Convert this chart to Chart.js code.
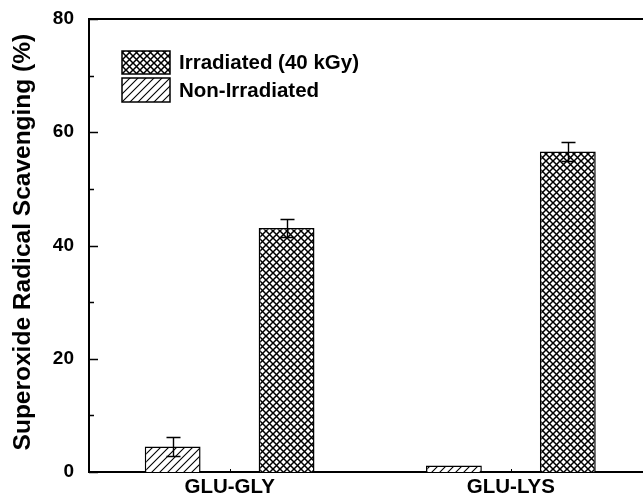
<!DOCTYPE html>
<html>
<head>
<meta charset="utf-8">
<script src="https://cdn.jsdelivr.net/npm/chart.js@4.4.0/dist/chart.umd.min.js"></script>
<style>
html,body{margin:0;padding:0;background:#fff;}
#wrap{width:643px;height:497px;overflow:hidden;position:relative;}
canvas{display:block;}
</style>
</head>
<body>
<div id="wrap"><canvas id="c" width="660" height="497"></canvas></div>
<script>
// ---- data ----
const categories = ['GLU-GLY', 'GLU-LYS'];
const nonIrradiated = [4.5, 1.15];
const nonIrradiatedErr = [1.7, 0];
const irradiated = [43.1, 56.6];
const irradiatedErr = [1.65, 1.6];
const yTicks = [0, 20, 40, 60, 80];
const seriesNames = ['Non-Irradiated', 'Irradiated (40 kGy)'];

const FONT = '"Liberation Sans", Arial, Helvetica, sans-serif';

function crossPattern() {
  const s = 7, c = document.createElement('canvas');
  c.width = s; c.height = s;
  const g = c.getContext('2d');
  g.fillStyle = '#fff'; g.fillRect(0, 0, s, s);
  g.strokeStyle = '#000'; g.lineWidth = 1.5;
  g.beginPath();
  g.moveTo(-1, -1); g.lineTo(s + 1, s + 1);
  g.moveTo(-1, s + 1); g.lineTo(s + 1, -1);
  g.stroke();
  return g.createPattern(c, 'repeat');
}
function hatchPattern() {
  const s = 8, c = document.createElement('canvas');
  c.width = s; c.height = s;
  const g = c.getContext('2d');
  g.fillStyle = '#fff'; g.fillRect(0, 0, s, s);
  g.strokeStyle = '#000'; g.lineWidth = 1.1;
  g.beginPath();
  g.moveTo(-1, s + 1); g.lineTo(s + 1, -1);
  g.moveTo(-1, 1); g.lineTo(1, -1);
  g.moveTo(s - 1, s + 1); g.lineTo(s + 1, s - 1);
  g.stroke();
  return g.createPattern(c, 'repeat');
}
const cross = crossPattern();
const hatch = hatchPattern();

const errorBars = {
  id: 'errorBars',
  afterDatasetsDraw(chart) {
    const ctx = chart.ctx, y = chart.scales.y;
    const errs = [nonIrradiatedErr, irradiatedErr];
    const vals = [nonIrradiated, irradiated];
    ctx.save();
    ctx.strokeStyle = '#000'; ctx.lineWidth = 1.4;
    chart.data.datasets.forEach((ds, di) => {
      const meta = chart.getDatasetMeta(di);
      meta.data.forEach((bar, i) => {
        const e = errs[di][i];
        if (!e) return;
        const yt = Math.round(y.getPixelForValue(vals[di][i] + e)) + 0.5;
        const yb = Math.round(y.getPixelForValue(vals[di][i] - e)) + 0.5;
        const x = Math.round(bar.x) + 0.5, hw = 7;
        ctx.beginPath();
        ctx.moveTo(x, yt); ctx.lineTo(x, yb);
        ctx.moveTo(x - hw, yt); ctx.lineTo(x + hw, yt);
        ctx.moveTo(x - hw, yb); ctx.lineTo(x + hw, yb);
        ctx.stroke();
      });
    });
    ctx.restore();
  }
};

const frame = {
  id: 'frame',
  afterDraw(chart) {
    const ctx = chart.ctx, a = chart.chartArea, y = chart.scales.y, x = chart.scales.x;
    ctx.save();
    ctx.strokeStyle = '#000';
    // top border
    ctx.lineWidth = 2;
    ctx.beginPath(); ctx.moveTo(a.left - 1, a.top); ctx.lineTo(a.right + 20, a.top); ctx.stroke();
    // inward y ticks
    ctx.lineWidth = 1.5;
    y.ticks.forEach(t => {
      const py = Math.round(y.getPixelForValue(t.value)) + 0.5;
      const len = (t.value % 20 === 0) ? 9 : 5;
      ctx.beginPath(); ctx.moveTo(a.left, py); ctx.lineTo(a.left + len, py); ctx.stroke();
    });
    // tiny category ticks
    ctx.lineWidth = 1;
    categories.forEach((c, i) => {
      const px = Math.round(x.getPixelForValue(i)) + 0.5;
      ctx.beginPath(); ctx.moveTo(px, a.bottom); ctx.lineTo(px, a.bottom - 3); ctx.stroke();
    });
    // legend
    const items = [
      { fill: cross, text: seriesNames[1], y0: 51, h: 23 },
      { fill: hatch, text: seriesNames[0], y0: 78, h: 24 }
    ];
    items.forEach(it => {
      ctx.fillStyle = it.fill;
      ctx.fillRect(122, it.y0, 48, it.h);
      ctx.lineWidth = 1.5; ctx.strokeStyle = '#000';
      ctx.strokeRect(122, it.y0, 48, it.h);
      ctx.fillStyle = '#000';
      ctx.font = 'bold 20.5px ' + FONT;
      ctx.textBaseline = 'middle'; ctx.textAlign = 'left';
      ctx.fillText(it.text, 179, it.y0 + it.h / 2 + 1);
    });
    ctx.restore();
  }
};

new Chart(document.getElementById('c'), {
  type: 'bar',
  data: {
    labels: categories,
    datasets: [
      { label: seriesNames[0], data: nonIrradiated, backgroundColor: hatch, borderColor: '#000', borderWidth: 1.5, borderSkipped: 'bottom' },
      { label: seriesNames[1], data: irradiated, backgroundColor: cross, borderColor: '#000', borderWidth: 1.5, borderSkipped: 'bottom' }
    ]
  },
  options: {
    responsive: false,
    animation: false,
    devicePixelRatio: 1,
    categoryPercentage: 0.81,
    barPercentage: 0.49,
    layout: { padding: { top: 19, right: 8.5, left: 0, bottom: 0 } },
    plugins: { legend: { display: false }, tooltip: { enabled: false } },
    scales: {
      x: {
        grid: { display: false, drawTicks: false },
        border: { display: true, color: '#000', width: 2 },
        ticks: { color: '#000', font: { family: FONT, size: 20.5, weight: 'bold' }, padding: 3 },
        afterFit(s) { s.height = 25; s.paddingLeft = 0; s.paddingRight = 0; }
      },
      y: {
        min: 0, max: 80,
        grid: { display: false, drawTicks: false },
        border: { display: true, color: '#000', width: 2 },
        ticks: {
          stepSize: 10, autoSkip: false, color: '#000', padding: 15,
          font: { family: FONT, size: 19, weight: 'bold' },
          callback: v => (yTicks.includes(v) ? String(v) : '')
        },
        title: {
          display: true, text: '\u00A0Superoxide Radical Scavenging (%)', color: '#000',
          font: { family: FONT, size: 24.5, weight: 'bold' }, padding: { top: 9, bottom: 0 }
        },
        afterFit(s) { s.width = 89; s.paddingTop = 0; s.paddingBottom = 0; }
      }
    }
  },
  plugins: [errorBars, frame]
});
</script>
</body>
</html>
